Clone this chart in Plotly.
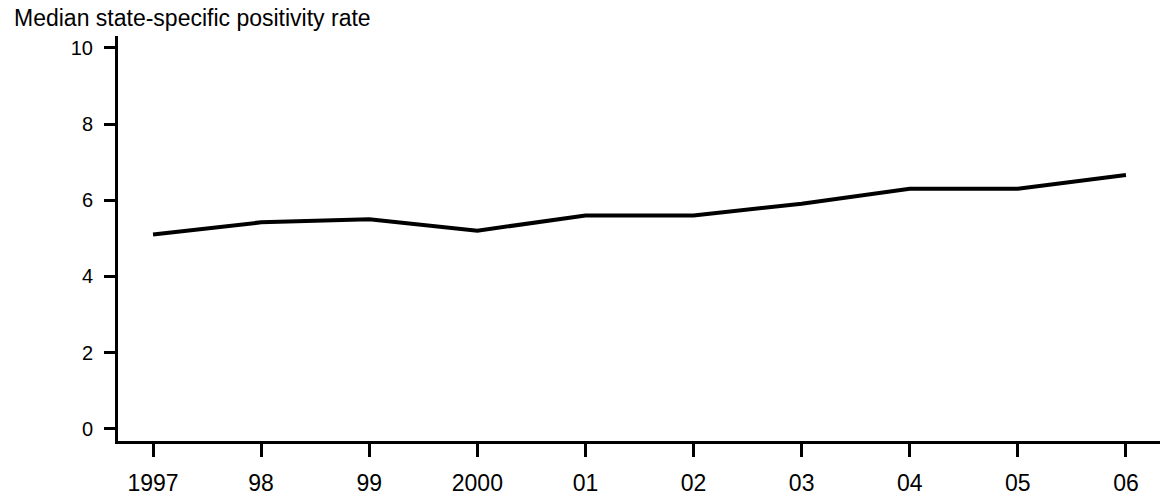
import plotly.graph_objects as go

years = [1997, 1998, 1999, 2000, 2001, 2002, 2003, 2004, 2005, 2006]
year_labels = ["1997", "98", "99", "2000", "01", "02", "03", "04", "05", "06"]
positivity = [5.1, 5.42, 5.5, 5.2, 5.6, 5.6, 5.91, 6.3, 6.3, 6.66]
y_ticks = [0, 2, 4, 6, 8, 10]

W, H = 1164, 500
L, R, T, B = 118, 4, 36, 53
plot_w = W - L - R
plot_h = H - T - B

fig = go.Figure()
fig.add_trace(go.Scatter(
    x=years, y=positivity, mode="lines",
    line=dict(color="black", width=4), hoverinfo="skip", showlegend=False,
))

font = "Liberation Sans, Arial, sans-serif"
fig.update_layout(
    width=W, height=H,
    margin=dict(l=L, r=R, t=T, b=B, pad=0),
    paper_bgcolor="white", plot_bgcolor="white",
    font=dict(family=font, color="black", size=20),
    xaxis=dict(
        range=[1996.676, 2006.315],
        tickmode="array", tickvals=years, ticktext=year_labels,
        showline=True, linecolor="black", linewidth=3,
        ticks="outside", ticklen=13, tickwidth=3, tickcolor="black",
        showgrid=False, zeroline=False,
        tickfont=dict(size=23, family=font, color="black"),
        ticklabelstandoff=6,
    ),
    yaxis=dict(
        range=[-0.32, 10.31],
        tickmode="array", tickvals=y_ticks,
        showline=True, linecolor="black", linewidth=3,
        ticks="outside", ticklen=11, tickwidth=3, tickcolor="black",
        showgrid=False, zeroline=False,
        tickfont=dict(size=20, family=font, color="black"),
        ticklabelstandoff=7,
    ),
    annotations=[dict(
        text="Median state-specific positivity rate",
        xref="paper", yref="paper",
        x=(12 - L) / plot_w, y=1 + (T - 18) / plot_h,
        xanchor="left", yanchor="middle", showarrow=False,
        font=dict(size=23, family=font, color="black"),
    )],
)

fig.write_html(
    "out.html",
    config={"displayModeBar": False},
    post_script="document.body.style.margin='0';document.body.style.overflow='hidden';",
)
